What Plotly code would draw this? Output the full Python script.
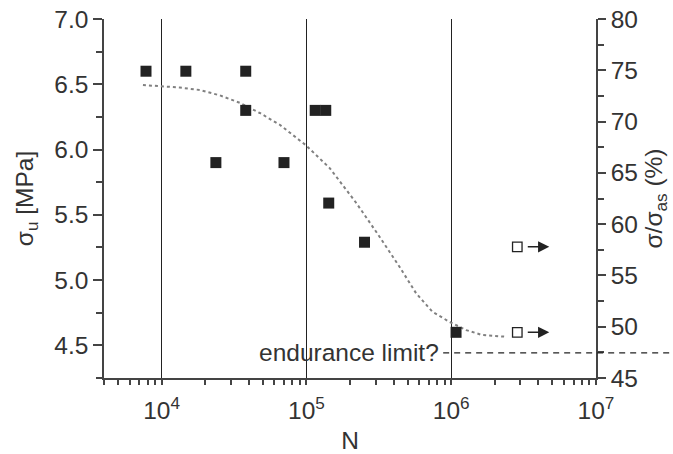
import math
import plotly.graph_objects as go

# ---- data ----
N_failed = [7800, 14700, 38100, 38100, 23700, 70000, 115000, 136000, 142600, 252000, 1080000]
sigma_failed = [6.6, 6.6, 6.6, 6.3, 5.9, 5.9, 6.3, 6.3, 5.59, 5.29, 4.60]

N_runout = [2860000, 2860000]
sigma_runout = [5.255, 4.60]

curve_N = [7430, 10000, 13370, 18370, 25230, 34670, 47640, 65460, 98900, 144800,
           221300, 320000, 439500, 573000, 742000, 973000, 1270000, 1640000, 2400000]
curve_sigma = [6.494, 6.483, 6.475, 6.456, 6.415, 6.358, 6.28, 6.19, 6.034, 5.858,
               5.59, 5.332, 5.102, 4.898, 4.757, 4.68, 4.617, 4.579, 4.566]

endurance_limit_pct = 47.45
endurance_start_N = 880000
endurance_label = "endurance limit?"

x_tickvals = [1e4, 1e5, 1e6, 1e7]
x_ticktext = ["10<sup>4</sup>", "10<sup>5</sup>", "10<sup>6</sup>", "10<sup>7</sup>"]

# ---- styling ----
FONT = "Liberation Sans, Arial, sans-serif"
FS = 24.5
TXT = "#333333"
AX = "#444444"
x_range = [math.log10(4000), 7]
y_range = [4.25, 7.0]
y2_range = [45, 80]

fig = go.Figure()

fig.add_trace(go.Scatter(
    x=curve_N, y=curve_sigma, mode="lines",
    line=dict(color="#808080", width=2, dash="dot"),
    showlegend=False, hoverinfo="skip"))

fig.add_trace(go.Scatter(
    x=N_failed, y=sigma_failed, mode="markers",
    marker=dict(symbol="square", size=11, color="#222222", line=dict(width=0)),
    showlegend=False))

fig.add_trace(go.Scatter(
    x=N_runout, y=sigma_runout, mode="markers",
    marker=dict(symbol="square", size=9.5, color="white", line=dict(width=1.3, color="#222222")),
    showlegend=False))

# dummy trace to activate right axis
fig.add_trace(go.Scatter(x=[None], y=[None], yaxis="y2", showlegend=False))

# run-out arrows
for n, s in zip(N_runout, sigma_runout):
    fig.add_annotation(
        x=math.log10(n) + 0.221, y=s, xref="x", yref="y",
        ax=-23, ay=0, axref="pixel", ayref="pixel",
        showarrow=True, arrowhead=2, arrowsize=1.6, arrowwidth=1.4,
        arrowcolor="#222222", text="")

# endurance limit dashed line (extends beyond plot area)
y_paper = (endurance_limit_pct - y2_range[0]) / (y2_range[1] - y2_range[0])
x0_paper = (math.log10(endurance_start_N) - x_range[0]) / (x_range[1] - x_range[0])
fig.add_shape(type="line", xref="paper", yref="paper",
              x0=x0_paper, x1=1.16, y0=y_paper, y1=y_paper,
              line=dict(color="#222222", width=1.3, dash="6px,5px"))

fig.add_annotation(
    x=math.log10(endurance_start_N) - 0.015, y=y_paper, xref="x", yref="paper",
    text=endurance_label, showarrow=False, xanchor="right", yanchor="middle",
    font=dict(family=FONT, size=FS, color=TXT))

axis_common = dict(
    showline=True, linecolor=AX, linewidth=1.5,
    tickcolor=AX, tickwidth=1.5, zeroline=False, automargin=False,
    tickfont=dict(family=FONT, size=FS, color=TXT),
)

fig.update_layout(
    width=673, height=454,
    margin=dict(l=104, r=77, t=19, b=76),
    paper_bgcolor="white", plot_bgcolor="white",
    font=dict(family=FONT, size=FS, color=TXT),
    xaxis=dict(
        type="log", range=x_range,
        tickvals=x_tickvals, ticktext=x_ticktext,
        ticks="outside", ticklen=5, ticklabelstandoff=5,
        showgrid=True, gridcolor="#222222", gridwidth=1.3,
        minor=dict(ticks="outside", ticklen=5, tickcolor=AX, dtick="D1", showgrid=False),
        title=dict(text="N", font=dict(family=FONT, size=FS, color=TXT), standoff=9),
        **axis_common),
    yaxis=dict(
        range=y_range, tick0=4.5, dtick=0.5, tickformat=".1f",
        ticks="outside", ticklen=9, showgrid=False,
        minor=dict(ticks="outside", ticklen=6, tickcolor=AX, dtick=0.25, tick0=4.25),
        title=dict(text="σ<sub>u</sub> [MPa]", font=dict(family=FONT, size=FS, color=TXT), standoff=14),
        **axis_common),
    yaxis2=dict(
        overlaying="y", side="right", range=y2_range, tick0=45, dtick=5,
        ticks="outside", ticklen=8, showgrid=False,
        minor=dict(ticks="outside", ticklen=6, tickcolor=AX, dtick=2.5, tick0=45),
        title=dict(text="σ/σ<sub>as</sub> (%)", font=dict(family=FONT, size=FS, color=TXT), standoff=8),
        **axis_common),
)

fig.write_html("out.html")
